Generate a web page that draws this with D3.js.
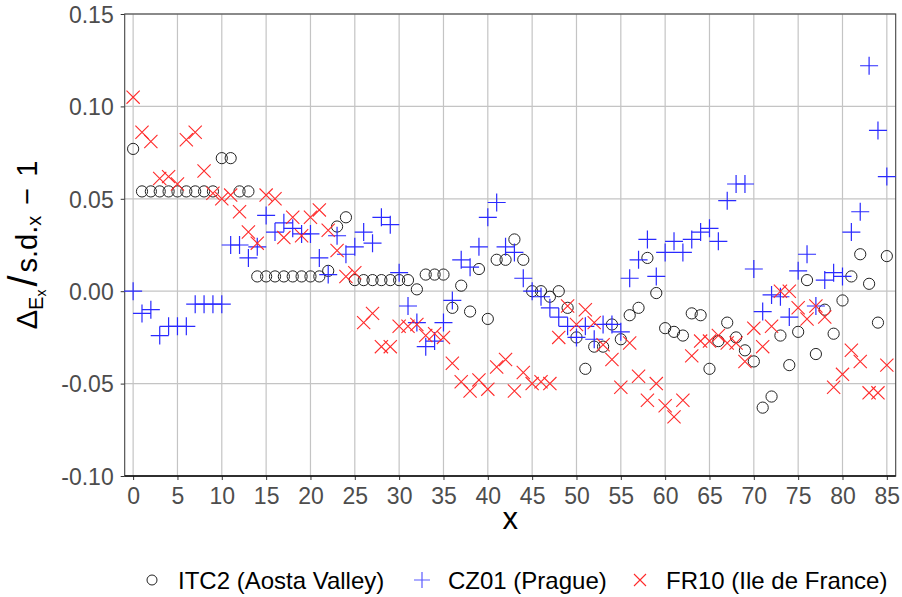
<!DOCTYPE html>
<meta charset="utf-8">
<script src="https://d3js.org/d3.v7.min.js"></script>
<style>
  body { margin: 0; background: #fff; }
  text { font-family: "Liberation Sans", Arial, sans-serif; }
</style>
<div id="chart"></div>
<script>
// values, index = x (0..85)
const itc2 = [0.077, 0.054, 0.054, 0.054, 0.054, 0.054, 0.054, 0.054, 0.054, 0.054,
  0.072, 0.072, 0.054, 0.054, 0.008, 0.008, 0.008, 0.008, 0.008, 0.008,
  0.008, 0.008, 0.011, 0.035, 0.040, 0.006, 0.006, 0.006, 0.006, 0.006,
  0.006, 0.006, 0.001, 0.009, 0.009, 0.009, -0.009, 0.003, -0.011, 0.012,
  -0.015, 0.017, 0.017, 0.028, 0.017, 0.000, 0.000, -0.003, 0.000, -0.009,
  -0.025, -0.042, -0.030, -0.030, -0.018, -0.026, -0.013, -0.009, 0.018, -0.001,
  -0.020, -0.022, -0.024, -0.012, -0.013, -0.042, -0.027, -0.017, -0.025, -0.032,
  -0.038, -0.063, -0.057, -0.024, -0.040, -0.022, 0.006, -0.034, -0.010, -0.023,
  -0.005, 0.008, 0.020, 0.004, -0.017, 0.019];
const cz01 = [0.000, -0.012, -0.010, -0.024, -0.019, -0.019, -0.019, -0.007, -0.007, -0.007,
  -0.007, 0.025, 0.025, 0.018, 0.024, 0.041, 0.032, 0.037, 0.034, 0.031,
  0.031, 0.018, 0.009, 0.030, 0.020, 0.024, 0.032, 0.026, 0.040, 0.036,
  0.010, -0.008, -0.017, -0.030, -0.027, -0.017, -0.005, 0.017, 0.013, 0.024,
  0.040, 0.048, 0.024, 0.021, 0.007, 0.000, -0.003, -0.009, -0.014, -0.019,
  -0.025, -0.019, -0.026, -0.018, -0.018, -0.022, 0.007, 0.017, 0.028, 0.008,
  0.021, 0.027, 0.021, 0.028, 0.032, 0.034, 0.027, 0.049, 0.058, 0.058,
  0.012, -0.011, -0.002, -0.003, -0.014, 0.011, 0.020, -0.008, 0.006, 0.010,
  0.008, 0.032, 0.043, 0.122, 0.087, 0.062];
const fr10 = [0.105, 0.086, 0.081, 0.061, 0.062, 0.058, 0.082, 0.086, 0.065, 0.053,
  0.050, 0.052, 0.043, 0.032, 0.026, 0.052, 0.050, 0.029, 0.040, 0.030,
  0.040, 0.044, 0.033, 0.022, 0.008, 0.010, -0.017, -0.012, -0.030, -0.030,
  -0.019, -0.019, -0.018, -0.024, -0.023, -0.025, -0.039, -0.049, -0.054, -0.048,
  -0.053, -0.041, -0.037, -0.054, -0.044, -0.050, -0.049, -0.050, -0.025, -0.008,
  -0.018, -0.010, -0.017, -0.029, -0.037, -0.052, -0.028, -0.046, -0.059, -0.050,
  -0.062, -0.068, -0.059, -0.035, -0.027, -0.027, -0.024, -0.028, -0.028, -0.038,
  -0.020, -0.030, -0.019, 0.000, 0.000, -0.009, -0.015, -0.008, -0.014, -0.052,
  -0.045, -0.032, -0.038, -0.055, -0.055, -0.040];
const seriesNames = ["ITC2 (Aosta Valley)", "CZ01 (Prague)", "FR10 (Ile de France)"];
const xTicks = [0, 5, 10, 15, 20, 25, 30, 35, 40, 45, 50, 55, 60, 65, 70, 75, 80, 85];
const yTicks = [-0.10, -0.05, 0.00, 0.05, 0.10, 0.15];
const yTickLabels = ["-0.10", "-0.05", "0.00", "0.05", "0.10", "0.15"];

const width = 902, height = 597;
const pLeft = 124.7, pRight = 895.7, pTop = 14, pBottom = 476;

const svg = d3.select("#chart").append("svg")
  .attr("width", width).attr("height", height);

const x = d3.scaleLinear().domain([-0.95, 86.0]).range([pLeft, pRight]);
const y = d3.scaleLinear().domain([-0.10, 0.15]).range([pBottom, pTop]);

// grid
svg.append("g").selectAll("line").data(xTicks).join("line")
  .attr("x1", d => x(d)).attr("x2", d => x(d))
  .attr("y1", pTop).attr("y2", pBottom)
  .attr("stroke", "#c4c4c4").attr("stroke-width", 1.2);
svg.append("g").selectAll("line").data(yTicks).join("line")
  .attr("x1", pLeft).attr("x2", pRight)
  .attr("y1", d => y(d)).attr("y2", d => y(d))
  .attr("stroke", "#c4c4c4").attr("stroke-width", 1.2);

// axes
const xAxis = svg.append("g").attr("transform", `translate(0,${pBottom})`)
  .call(d3.axisBottom(x).tickValues(xTicks).tickSize(4).tickPadding(8));
const yAxis = svg.append("g").attr("transform", `translate(${pLeft},0)`)
  .call(d3.axisLeft(y).tickValues(yTicks).tickSize(4).tickPadding(7)
    .tickFormat((d, i) => yTickLabels[i]));
[xAxis, yAxis].forEach(g => {
  g.select(".domain").remove();
  g.selectAll(".tick line").attr("stroke", "#333");
  g.selectAll(".tick text").attr("fill", "#4d4d4d")
    .style("font-size", "23px").style("font-family", "Liberation Sans, Arial, sans-serif");
});
xAxis.selectAll(".tick text").attr("dy", "0.71em");
yAxis.selectAll(".tick text").attr("dy", "0.36em");

// panel border
svg.append("rect")
  .attr("x", pLeft).attr("y", pTop)
  .attr("width", pRight - pLeft).attr("height", pBottom - pTop)
  .attr("fill", "none").attr("stroke", "#444").attr("stroke-width", 1.1);
svg.append("line")
  .attr("x1", pLeft).attr("x2", pRight).attr("y1", pBottom).attr("y2", pBottom)
  .attr("stroke", "#111").attr("stroke-width", 1.3);

// markers
function plus(s) { return `M${-s},0H${s}M0,${-s}V${s}`; }
function cross(s) { return `M${-s},${-s}L${s},${s}M${-s},${s}L${s},${-s}`; }

const plot = svg.append("g");
plot.append("g").selectAll("circle").data(itc2).join("circle")
  .attr("cx", (d, i) => x(i)).attr("cy", d => y(d))
  .attr("r", 5.6).attr("fill", "none")
  .attr("stroke", "#222").attr("stroke-width", 1);
plot.append("g").selectAll("path").data(cz01).join("path")
  .attr("transform", (d, i) => `translate(${x(i)},${y(d)})`)
  .attr("d", plus(9)).attr("fill", "none")
  .attr("stroke", "#2a2aff").attr("stroke-width", 1.2);
plot.append("g").selectAll("path").data(fr10).join("path")
  .attr("transform", (d, i) => `translate(${x(i)},${y(d)})`)
  .attr("d", cross(6.6)).attr("fill", "none")
  .attr("stroke", "#ff2a2a").attr("stroke-width", 1.1);

// axis titles
svg.append("text")
  .attr("x", (pLeft + pRight) / 2).attr("y", 529)
  .attr("text-anchor", "middle")
  .style("font-size", "31px").attr("fill", "#000")
  .text("x");

const yt = svg.append("text")
  .attr("transform", `translate(37,${(pTop + pBottom) / 2}) rotate(-90)`)
  .attr("text-anchor", "middle")
  .style("font-size", "29px").attr("fill", "#000");
yt.append("tspan").text("Δ");
yt.append("tspan").attr("dy", 6).style("font-size", "20px").text("E");
yt.append("tspan").attr("dy", 3).style("font-size", "14px").text("x");
yt.append("tspan").attr("dy", -9).attr("dx", 3).style("font-size", "40px").text("/");
yt.append("tspan").attr("dx", 3).style("font-size", "29px").text("s.d.");
yt.append("tspan").attr("dy", 4).style("font-size", "20px").text("x");
yt.append("tspan").attr("dy", -4).attr("dx", 11).style("font-size", "29px").text("−");
yt.append("tspan").attr("dx", 11).style("font-size", "29px").text("1");

// legend
const legY = 580;
const legend = svg.append("g");
const legStarts = [152, 422, 640];
seriesNames.forEach((name, i) => {
  const g = legend.append("g").attr("transform", `translate(${legStarts[i]},${legY})`);
  if (i === 0) g.append("circle").attr("r", 5).attr("fill", "none").attr("stroke", "#222");
  if (i === 1) g.append("path").attr("d", plus(8)).attr("stroke", "#5a5aff").attr("stroke-width", 1.2);
  if (i === 2) g.append("path").attr("d", cross(6)).attr("stroke", "#ff2a2a").attr("stroke-width", 1.1);
  g.append("text").attr("x", 26).attr("dy", "0.36em")
    .style("font-size", "24px").attr("fill", "#000").text(name);
});
</script>
